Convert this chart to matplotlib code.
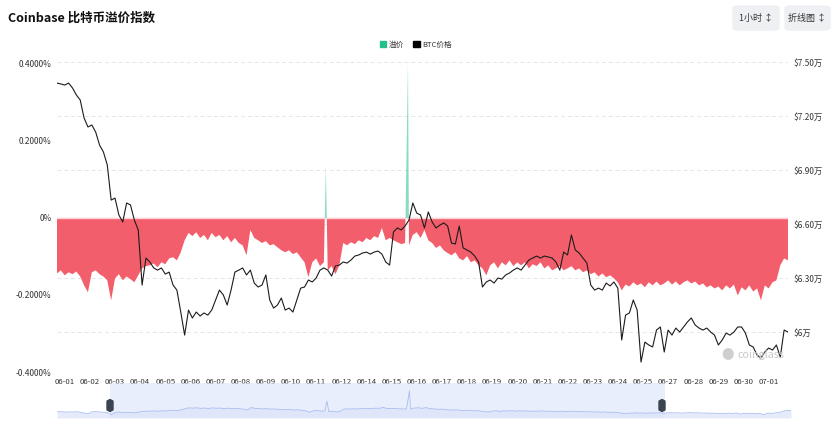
import matplotlib
matplotlib.use("Agg")
import matplotlib.pyplot as plt
import numpy as np
import pandas as pd
from matplotlib.patches import FancyBboxPatch, Patch

plt.rcParams["font.family"] = ["Noto Sans CJK SC", "DejaVu Sans"]

# 溢价 (%), una muestra cada 4 horas desde 05-31 16:00
premium = [
    -0.144, -0.136, -0.149, -0.141, -0.146, -0.139, -0.152, -0.175, -0.193, -0.141,
    -0.136, -0.146, -0.152, -0.162, -0.214, -0.157, -0.146, -0.162, -0.152, -0.159,
    -0.167, -0.149, -0.131, -0.125, -0.123, -0.118, -0.128, -0.115, -0.120, -0.105,
    -0.102, -0.110, -0.089, -0.058, -0.039, -0.047, -0.037, -0.052, -0.044, -0.058,
    -0.039, -0.050, -0.044, -0.058, -0.047, -0.063, -0.052, -0.065, -0.071, -0.097,
    -0.031, -0.052, -0.058, -0.065, -0.060, -0.071, -0.068, -0.076, -0.084, -0.089,
    -0.084, -0.094, -0.089, -0.102, -0.115, -0.154, -0.115, -0.105, -0.125, -0.115,
    -0.136, -0.125, -0.146, -0.123, -0.065, -0.071, -0.063, -0.068, -0.058, -0.063,
    -0.052, -0.058, -0.047, -0.052, -0.026, -0.058, -0.052, -0.058, -0.063, -0.068,
    -0.065, -0.071, -0.044, -0.037, -0.052, -0.031, -0.058, -0.065, -0.078, -0.071,
    -0.084, -0.091, -0.097, -0.089, -0.105, -0.110, -0.099, -0.115, -0.110, -0.123,
    -0.131, -0.149, -0.123, -0.115, -0.131, -0.115, -0.123, -0.110, -0.125, -0.115,
    -0.123, -0.115, -0.131, -0.120, -0.125, -0.115, -0.131, -0.123, -0.136, -0.131,
    -0.125, -0.136, -0.131, -0.125, -0.136, -0.131, -0.141, -0.136, -0.146, -0.141,
    -0.152, -0.144, -0.154, -0.149, -0.157, -0.167, -0.188, -0.173, -0.178, -0.167,
    -0.175, -0.170, -0.180, -0.167, -0.175, -0.165, -0.175, -0.170, -0.162, -0.173,
    -0.165, -0.175, -0.167, -0.162, -0.170, -0.165, -0.175, -0.170, -0.180, -0.175,
    -0.183, -0.178, -0.188, -0.175, -0.183, -0.173, -0.201, -0.180, -0.188, -0.175,
    -0.191, -0.183, -0.214, -0.175, -0.183, -0.167, -0.162, -0.123, -0.105, -0.110,
]

# picos positivos (hora, %)
spike_hours = [278, 363]
spike_vals = [0.133, 0.402]

# BTC价格 (USD), mismas muestras
price = [
    73830, 73780, 73720, 73830, 73560, 73170, 72890, 71890, 71390, 71500,
    71110, 70390, 70000, 69280, 67330, 67440, 66500, 66110, 67170, 67060,
    66220, 65670, 62610, 64110, 63890, 63560, 63440, 63560, 63220, 63330,
    62610, 62330, 61110, 59830, 61220, 60780, 61110, 60890, 61060, 60940,
    61220, 61780, 62330, 62060, 61500, 62330, 63330, 63440, 63560, 63170,
    63440, 62720, 62500, 62610, 63170, 61780, 61330, 61500, 61890, 61220,
    61330, 61110, 61780, 62440, 62500, 62890, 62780, 63000, 63440, 63560,
    63440, 63110, 63670, 63720, 63890, 63830, 64000, 64220, 64280, 64390,
    64440, 64330, 64440, 64500, 64330, 63890, 63720, 65560, 65780, 65670,
    65890, 66220, 67170, 66610, 66500, 65780, 66670, 66110, 65780, 65940,
    66060, 65890, 64940, 64890, 65890, 64670, 64560, 64440, 64220, 63890,
    62500, 62780, 62890, 62720, 63000, 62940, 63170, 63280, 63440, 63560,
    63440, 63720, 64000, 64110, 64220, 64110, 64220, 64170, 64110, 63890,
    63440, 64440, 64280, 65390, 64560, 64390, 64110, 63830, 62610, 62330,
    62440, 62330, 62720, 62560, 62780, 62440, 59560, 60940, 61060, 61780,
    61220, 58330, 59440, 59280, 59170, 60110, 60280, 58890, 60110, 59830,
    60220, 60000, 60280, 60560, 60780, 60390, 60220, 60110, 60220, 60000,
    59830, 59280, 59560, 59940, 59830, 60000, 60280, 60280, 59940, 59280,
    59170, 58720, 58560, 58890, 59110, 59000, 59280, 58610, 60110, 60000,
]

left_ticks = [0.4, 0.2, 0, -0.2, -0.4]
left_labels = ["0.4000%", "0.2000%", "0%", "-0.2000%", "-0.4000%"]
right_ticks = [75000, 72000, 69000, 66000, 63000, 60000]
right_labels = ["$7.50万", "$7.20万", "$6.90万", "$6.60万", "$6.30万", "$6万"]

inicio = pd.Timestamp("2024-05-31 16:00")
paso = 4
total_h = 756

rojo = "#f25e6b"
verde = "#26c08d"
W, H = 832, 432


def px(x0, y0, x1, y1):
    # rect en pixeles (arriba-izq) a coords de figura
    return [x0 / W, 1 - y1 / H, (x1 - x0) / W, (y1 - y0) / H]


horas = np.arange(len(premium)) * paso
xs = np.concatenate([horas, spike_hours])
ps = np.concatenate([premium, spike_vals])
orden = np.argsort(xs)
xs, ps = xs[orden], ps[orden]

fig = plt.figure(figsize=(8.32, 4.32), dpi=100)
pos = px(57, 62, 788, 372)

# capa de fondo: grilla y eje derecho
axg = fig.add_axes(pos)
axg.set_xlim(0, total_h)
axg.set_ylim(57780, 75000)
axg.set_yticks(right_ticks)
axg.set_yticklabels(right_labels)
axg.yaxis.tick_right()
axg.tick_params(axis="y", length=0, pad=4, labelsize=6, labelcolor="#333333")
axg.set_xticks([])
axg.grid(axis="y", color="#e6e6e6", linestyle=(0, (4, 3)), linewidth=0.7)
for s in axg.spines.values():
    s.set_visible(False)

# capa media: area de 溢价
ax = fig.add_axes(pos)
ax.patch.set_visible(False)
ax.fill_between(xs, ps, 0, where=ps <= 0, interpolate=True, color=rojo, lw=0)
ax.fill_between(xs, ps, 0, where=ps >= 0, interpolate=True, color=verde, alpha=0.55, lw=0)
ax.axhline(0, color="#ffd3d7", lw=1.0)
ax.axhline(-0.4, color="#e6e6e6", lw=0.7, linestyle=(0, (4, 3)))
ax.set_xlim(0, total_h)
ax.set_ylim(-0.4, 0.405)
ax.set_yticks(left_ticks)
ax.set_yticklabels(left_labels)
tick_h = [8 + 26 * j for j in range(29)]
ax.set_xticks(tick_h)
ax.set_xticklabels([(inicio + pd.Timedelta(hours=int(h))).strftime("%m-%d") for h in tick_h])
ax.tick_params(axis="y", length=0, pad=4, labelsize=6, labelcolor="#333333")
ax.tick_params(axis="x", length=0, pad=4, labelsize=5.6, labelcolor="#333333")
for s in ax.spines.values():
    s.set_visible(False)

# capa de arriba: precio
axp = fig.add_axes(pos)
axp.patch.set_visible(False)
axp.plot(horas, price, color="#1c1c1c", lw=0.8)
axp.set_xlim(0, total_h)
axp.set_ylim(57780, 75000)
axp.axis("off")

# marca de agua
fig.text(728 / W, 1 - 356 / H, "●", color="#cfcfcf", fontsize=9, ha="center", va="center")
fig.text(737 / W, 1 - 355 / H, "coinglass", color="#c8c8c8", fontsize=7.8, ha="left", va="center")

# slider inferior
axs = fig.add_axes(px(57, 383, 791, 418))
axs.fill_between(horas, premium, -0.3, color="#dfe6f9", alpha=0.8, lw=0)
axs.plot(xs, ps, color="#a9bdf1", lw=0.6)
axs.axvspan(55, 626, color="#dbe3fa", alpha=0.6, lw=0)
axs.set_xlim(0, total_h)
axs.set_ylim(-0.3, 0.6)
axs.axis("off")
for hx in (110, 662):
    fig.patches.append(FancyBboxPatch(((hx - 3) / W, 1 - 411 / H), 6 / W, 11 / H,
                                      boxstyle="round,pad=0,rounding_size=0.004",
                                      transform=fig.transFigure, color="#3b4250"))

# titulo, leyenda, botones
fig.text(8 / W, 1 - 18 / H, "Coinbase 比特币溢价指数", fontsize=9, fontweight="bold",
         color="#111111", va="center")
fig.legend(handles=[Patch(color=verde, label="溢价"), Patch(color="black", label="BTC价格")],
           loc="center", bbox_to_anchor=(0.5, 1 - 45 / H), ncol=2, frameon=False,
           fontsize=5.5, handlelength=0.8, handleheight=0.8, handletextpad=0.4,
           columnspacing=1.2, labelcolor="#333333")
for x0, x1, txt in [(733, 779, "1小时 ↕"), (785, 830, "折线图 ↕")]:
    fig.patches.append(FancyBboxPatch((x0 / W, 1 - 30 / H), (x1 - x0) / W, 24 / H,
                                      boxstyle="round,pad=0,rounding_size=0.006",
                                      transform=fig.transFigure, color="#eef0f3"))
    fig.text((x0 + x1) / 2 / W, 1 - 18 / H, txt, fontsize=6.5, color="#333333",
             ha="center", va="center")

fig.savefig("out.png", dpi=100)
